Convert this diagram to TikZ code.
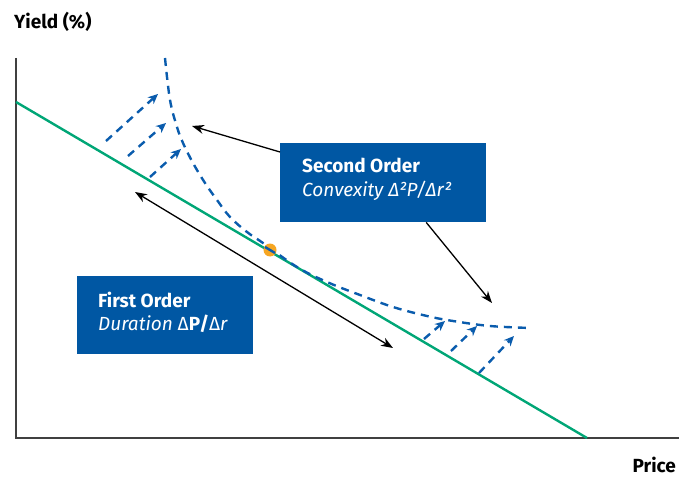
\documentclass[tikz,border=0pt]{standalone}
\usepackage{fontspec}
\setmainfont{Fira Sans}
\usetikzlibrary{arrows.meta}
\definecolor{boxblue}{HTML}{0057A3}
\definecolor{curveblue}{HTML}{0A5CAD}
\definecolor{linegreen}{HTML}{00A676}
\definecolor{dotorange}{HTML}{F6A623}
\definecolor{axisgrey}{HTML}{404040}
\tikzset{
  axisline/.style={draw=axisgrey, line width=1.8pt},
  tangent/.style={draw=linegreen, line width=2.4pt},
  convex/.style={draw=curveblue, line width=2.4pt, dash pattern=on 8pt off 6pt},
  shift arrow/.style={draw=curveblue, line width=2.4pt, dash pattern=on 8pt off 6pt, -{Stealth[length=10pt,width=9pt]}},
  pointer/.style={draw=black, line width=1.3pt, -{Stealth[length=12pt,width=9pt]}},
  dpointer/.style={draw=black, line width=1.3pt, {Stealth[length=12pt,width=9pt]}-{Stealth[length=12pt,width=9pt]}},
  infobox/.style={fill=boxblue, draw=none, inner sep=0pt, anchor=north west},
  boxtext/.style={text=white, inner sep=0pt, anchor=base west, font=\fontsize{19}{23}\selectfont},
  axislabel/.style={inner sep=0pt, font=\bfseries\fontsize{19}{22}\selectfont},
}
\begin{document}
\begin{tikzpicture}[x=1pt, y=-1pt]
\useasboundingbox (0,0) rectangle (679,478);
% axes
\coordinate (otop) at (16,58);
\coordinate (origin) at (16,438);
\coordinate (xend) at (679,438);
\draw[axisline] (otop) -- (origin) -- (xend);
\node[axislabel, anchor=base west] (ylab) at (14,29) {Yield (\%)};
\node[axislabel, anchor=base east] (xlab) at (676,472) {Price};
% tangent line
\coordinate (gstart) at (16,102);
\coordinate (gend) at (587,438);
\draw[tangent] (gstart) -- (gend);
% convex curve
\draw[convex] plot[smooth, tension=0.6] coordinates {(165,58) (170,100) (177,127) (183,143) (193,163) (205,183) (217,200) (230,217) (247,232) (263,243) (297,267) (327,282) (360,295) (393,307) (427,316) (453,321) (490,326) (531,328)};
% dashed shift arrows (upper left)
\coordinate (a1s) at (106,141); \coordinate (a1e) at (158,94);
\coordinate (a2s) at (128,156); \coordinate (a2e) at (166,123);
\coordinate (a3s) at (150,177); \coordinate (a3e) at (181,149);
\draw[shift arrow] (a1s) -- (a1e);
\draw[shift arrow] (a2s) -- (a2e);
\draw[shift arrow] (a3s) -- (a3e);
% dashed shift arrows (lower right)
\coordinate (b1s) at (424,339); \coordinate (b1e) at (445,321);
\coordinate (b2s) at (451,351); \coordinate (b2e) at (477,326);
\coordinate (b3s) at (479,373); \coordinate (b3e) at (514,336);
\draw[shift arrow] (b1s) -- (b1e);
\draw[shift arrow] (b2s) -- (b2e);
\draw[shift arrow] (b3s) -- (b3e);
% orange point
\node[circle, fill=dotorange, minimum size=13pt, inner sep=0pt] (pt) at (270,250) {};
\draw[curveblue, line width=2.4pt] (265,247) -- (275,253);
% boxes
\node[infobox, minimum width=206pt, minimum height=79pt] (so) at (280,143) {};
\node[boxtext] (so1) at (302,173) {\bfseries Second Order};
\node[boxtext] (so2) at (302,197) {\itshape Convexity Δ²P/Δr²};
\node[infobox, minimum width=176pt, minimum height=78pt] (fo) at (77,276) {};
\node[boxtext] (fo1) at (98,307) {\bfseries First Order};
\node[boxtext] (fo2) at (98,330) {{\itshape Duration }Δ\textbf{P/}Δ{\itshape r}};
% pointers
\coordinate (p1) at (192,126);
\coordinate (p2) at (492,303);
\coordinate (d1) at (135,192);
\coordinate (d2) at (393,348);
\draw[pointer] ([yshift=-9pt]so.north west) -- (p1);
\draw[pointer] ([xshift=43pt]so.south) -- (p2);
\draw[dpointer] (d1) -- (d2);
\end{tikzpicture}
\end{document}
